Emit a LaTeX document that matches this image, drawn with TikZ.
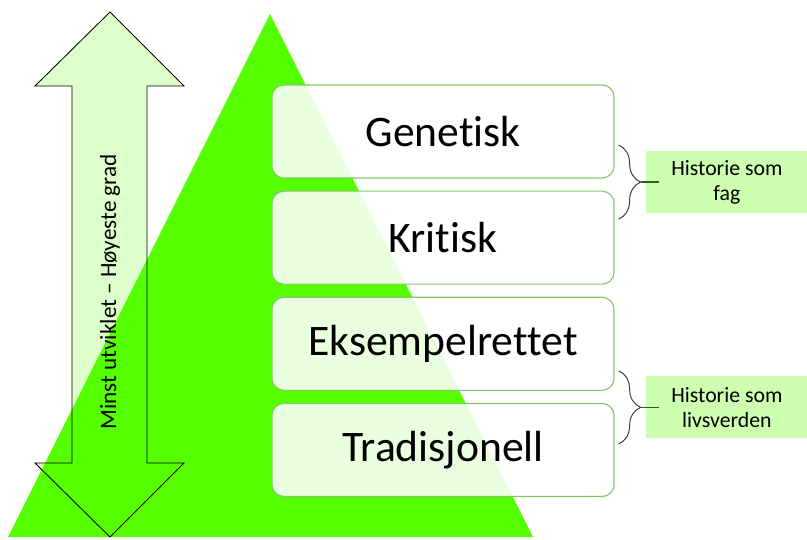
\documentclass[tikz,border=0pt]{standalone}
\usepackage{fontspec}
\setmainfont[Ligatures=NoCommon]{Carlito}
\usetikzlibrary{positioning,calc,decorations.pathreplacing}

\definecolor{trigreen}{RGB}{85,255,0}
\definecolor{boxline}{RGB}{130,200,100}
\definecolor{tagfill}{RGB}{206,255,176}
\definecolor{bracegray}{RGB}{60,60,60}
\definecolor{tickgreen}{RGB}{40,100,20}

\begin{document}
\begin{tikzpicture}[
    x=0.025cm, y=-0.025cm,
    node distance=0.3cm,
    level/.style={draw=boxline, line width=0.8pt, rounded corners=0.3cm, fill=white, fill opacity=0.88, text opacity=1, minimum width=8.55cm, minimum height=2.325cm, font=\fontsize{31}{36}\selectfont},
    tag/.style={fill=tagfill, minimum width=4.05cm, minimum height=1.55cm, inner sep=0pt, align=center, font=\fontsize{15.5}{17.8}\selectfont},
    brc/.style={decorate, decoration={brace, amplitude=0.55cm}, draw=bracegray, line width=0.7pt},
    tick/.style={draw=tickgreen, line width=0.9pt}
]
\useasboundingbox (0,0) rectangle (807,539);

% pyramid and double arrow
\fill[trigreen] (8,537) -- (270,14) -- (533,537) -- cycle;
\filldraw[fill=trigreen, fill opacity=0.2, draw=black, line width=0.6pt]
    (110,12) -- (184,86) -- (147,86) -- (147,463) -- (184,463) -- (110,537)
    -- (35,463) -- (72,463) -- (72,86) -- (35,86) -- cycle;
\node[rotate=90, font=\fontsize{16.5}{20}\selectfont] (scale) at (110,292) {Minst utviklet – Høyeste grad};

% levels
\node[level] (gen) at (443,131.5) {Genetisk};
\node[level, below=of gen] (krit) {Kritisk};
\node[level, below=of krit] (eks) {Eksempelrettet};
\node[level, below=of eks] (trad) {Tradisjonell};

% braces
\coordinate (b1top) at ($(gen.east)+(4,13.5)$);
\coordinate (b1bot) at ($(krit.east)+(4,-18.5)$);
\coordinate (b2top) at ($(eks.east)+(4,27)$);
\coordinate (b2bot) at ($(trad.east)+(4,-6)$);
\draw[brc] (b1top) -- (b1bot);
\draw[brc] (b2top) -- (b2bot);
\coordinate (tip1) at ($(b1top)!0.5!(b1bot)+(22,0)$);
\coordinate (tip2) at ($(b2top)!0.5!(b2bot)+(22,0)$);

\node[tag, anchor=west] (fag) at ($(tip1)+(5,0)$) {Historie som\\fag};
\node[tag, anchor=west] (livs) at ($(tip2)+(5,0)$) {Historie som\\livsverden};

\draw[tick] (tip1) -- ($(fag.west)+(13,0)$);
\draw[tick] (tip2) -- ($(livs.west)+(13,0)$);
\end{tikzpicture}
\end{document}
